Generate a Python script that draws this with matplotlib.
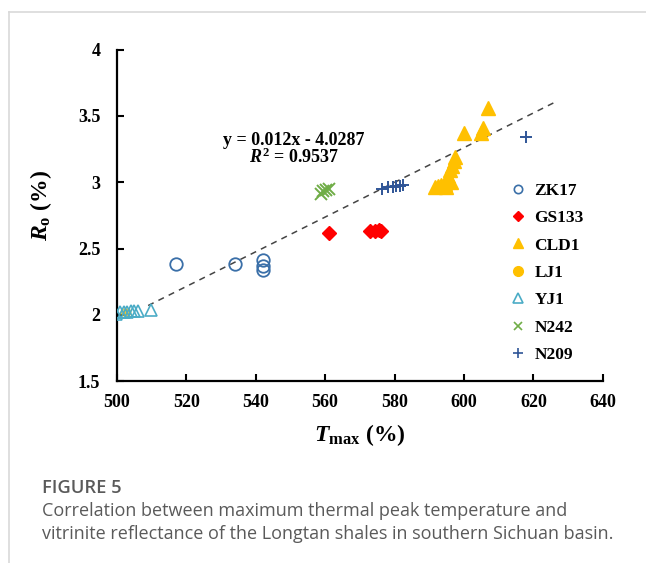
import matplotlib
matplotlib.use("Agg")
import matplotlib.pyplot as plt
from matplotlib.lines import Line2D

serif = "Liberation Serif"
plt.rcParams["mathtext.fontset"] = "custom"
plt.rcParams["mathtext.rm"] = serif + ":bold"
plt.rcParams["mathtext.it"] = serif + ":italic:bold"
plt.rcParams["mathtext.bf"] = serif + ":bold"
plt.rcParams["mathtext.bfit"] = serif + ":italic:bold"

# ---- data ----
zk17_x = [517, 534, 542, 542, 542]
zk17_y = [2.38, 2.38, 2.41, 2.37, 2.34]
gs133_x = [561, 573, 574.5, 575.5, 576]
gs133_y = [2.62, 2.63, 2.63, 2.64, 2.63]
cld1_x = [607, 600, 605.5, 604.8, 597.4, 597, 596.5, 596, 595.5, 595, 594.5, 593.5, 592.5, 591.7, 596.2, 594.8]
cld1_y = [3.56, 3.37, 3.41, 3.37, 3.19, 3.16, 3.12, 3.09, 3.05, 3.02, 2.99, 2.98, 2.97, 2.96, 3.00, 2.96]
lj1_x = [502, 503]
lj1_y = [2.02, 2.02]
yj1_x = [499.6, 501, 502, 503, 504, 505, 506, 509.8]
yj1_y = [2.01, 2.02, 2.02, 2.02, 2.03, 2.03, 2.03, 2.04]
n242_x = [558.8, 559.5, 560.2, 561]
n242_y = [2.91, 2.93, 2.94, 2.95]
n209_x = [576.5, 578, 579.5, 580.5, 581.5, 582.5, 617.8]
n209_y = [2.95, 2.96, 2.96, 2.97, 2.97, 2.98, 3.34]
trend_x = [509, 626]
trend_y = [2.07, 3.60]

xticks = [500, 520, 540, 560, 580, 600, 620, 640]
yticks = [1.5, 2, 2.5, 3, 3.5, 4]
ytick_labels = ["1.5", "2", "2.5", "3", "3.5", "4"]
labels = ["ZK17", "GS133", "CLD1", "LJ1", "YJ1", "N242", "N209"]
equation = "y = 0.012x - 4.0287"
r2_text = r"$\mathit{R}^{2}$ = 0.9537"
caption_title = "FIGURE 5"
caption_lines = ["Correlation between maximum thermal peak temperature and",
                 "vitrinite reflectance of the Longtan shales in southern Sichuan basin."]

fig = plt.figure(figsize=(6.46, 5.63), dpi=100)
ax = fig.add_axes([0.181, 0.323, 0.752, 0.589])

c_zk = "#3A6FA8"
c_gs = "#FF0000"
c_cl = "#FFC000"
c_yj = "#4BACC6"
c_n242 = "#70AD47"
c_n209 = "#2F5597"

ax.plot(trend_x, trend_y, ls=(0, (4, 3.5)), color="#444444", lw=1.1, zorder=1)

ax.plot(yj1_x, yj1_y, ls="none", marker="^", ms=9, mfc="none", mec=c_yj, mew=1.2, zorder=3)
ax.plot(lj1_x, lj1_y, ls="none", marker="o", ms=5, mfc=c_cl, mec=c_cl, alpha=0.6, zorder=2)
ax.plot(zk17_x, zk17_y, ls="none", marker="o", ms=9, mfc="none", mec=c_zk, mew=1.3, zorder=3)
ax.plot(gs133_x, gs133_y, ls="none", marker="D", ms=7, mfc=c_gs, mec=c_gs, zorder=3)
ax.plot(cld1_x, cld1_y, ls="none", marker="^", ms=10, mfc=c_cl, mec=c_cl, zorder=3)
ax.plot(n242_x, n242_y, ls="none", marker="x", ms=8, mec=c_n242, mew=1.4, zorder=3)
ax.plot(n209_x, n209_y, ls="none", marker="+", ms=9, mec=c_n209, mew=1.4, zorder=3)

ax.set_xlim(500, 640)
ax.set_ylim(1.5, 4)
ax.set_xticks(xticks)
ax.set_yticks(yticks)
ax.set_yticklabels(ytick_labels)
for s in ["top", "right"]:
    ax.spines[s].set_visible(False)
for s in ["left", "bottom"]:
    ax.spines[s].set_linewidth(1.6)
ax.tick_params(axis="x", direction="in", length=5, width=1.5, pad=9)
ax.tick_params(axis="y", direction="in", length=5, width=1.5, pad=12)
for lab in ax.get_xticklabels() + ax.get_yticklabels():
    lab.set_fontfamily(serif)
    lab.set_fontweight("bold")
    lab.set_fontsize(13)

ax.set_xlabel(r"$\mathit{T}_{\mathrm{max}}$ (%)", fontfamily=serif, fontweight="bold",
              fontsize=17, labelpad=8)
ax.set_ylabel(r"$\mathit{R}_{\mathrm{o}}$ (%)", fontfamily=serif, fontweight="bold",
              fontsize=17)
ax.yaxis.set_label_coords(-0.13, 0.53)

ax.text(551, 3.315, equation, ha="center", va="center", fontfamily=serif,
        fontweight="bold", fontsize=13)
ax.text(551, 3.19, r2_text, ha="center", va="center", fontfamily=serif,
        fontweight="bold", fontsize=13)

handles = [
    Line2D([], [], ls="none", marker="o", ms=6, mfc="none", mec=c_zk, mew=1.2),
    Line2D([], [], ls="none", marker="D", ms=5.5, mfc=c_gs, mec=c_gs),
    Line2D([], [], ls="none", marker="^", ms=7, mfc=c_cl, mec=c_cl),
    Line2D([], [], ls="none", marker="o", ms=7, mfc=c_cl, mec=c_cl),
    Line2D([], [], ls="none", marker="^", ms=7, mfc="none", mec=c_yj, mew=1.2),
    Line2D([], [], ls="none", marker="x", ms=6, mec=c_n242, mew=1.2),
    Line2D([], [], ls="none", marker="+", ms=7, mec=c_n209, mew=1.2),
]
ax.legend(handles, labels, loc="upper left", bbox_to_anchor=(0.79, 0.62),
          frameon=False, prop={"family": serif, "weight": "bold", "size": 12.5},
          handletextpad=0.35, labelspacing=0.65, handlelength=1.2, borderaxespad=0)

# gray frame
fig.add_artist(Line2D([9 / 646, 1.0], [1 - 12 / 563, 1 - 12 / 563],
                      transform=fig.transFigure, color="#d9d9d9", lw=1.2))
fig.add_artist(Line2D([9 / 646, 9 / 646], [0, 1 - 12 / 563],
                      transform=fig.transFigure, color="#d9d9d9", lw=1.2))

fig.text(42 / 646, 1 - 488 / 563, caption_title, fontfamily="Open Sans",
         fontsize=13.2, fontweight="semibold", color="#5a5a5a", va="center")
fig.text(42 / 646, 1 - 511 / 563, caption_lines[0], fontfamily="Open Sans",
         fontsize=13.0, color="#5a5a5a", va="center")
fig.text(42 / 646, 1 - 534 / 563, caption_lines[1], fontfamily="Open Sans",
         fontsize=13.0, color="#5a5a5a", va="center")

fig.savefig("out.png", dpi=100)
